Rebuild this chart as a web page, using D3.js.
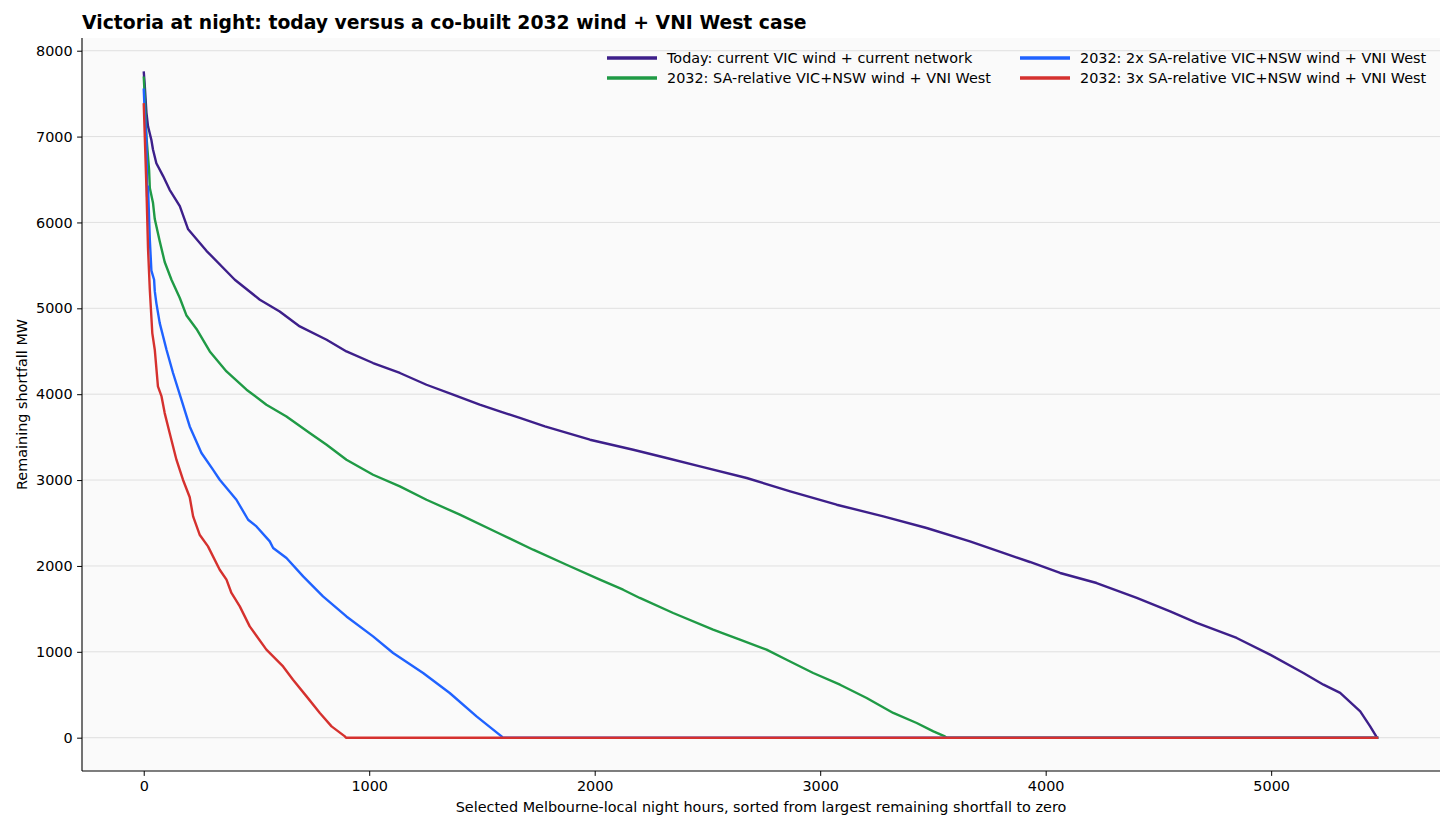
<!DOCTYPE html>
<html>
<head>
<meta charset="utf-8">
<script src="https://cdn.jsdelivr.net/npm/d3@7"></script>
<style>
  body { margin: 0; background: #fff; }
  svg text { font-family: "DejaVu Sans", sans-serif; fill: #000; }
</style>
</head>
<body>
<div id="chart"></div>
<script>
// Series: [sorted hour index, remaining shortfall MW]
var today = [[0,7760],[4,7620],[12,7280],[19,7120],[34,6960],[41,6850],[56,6690],[86,6540],[115,6380],[160,6190],[197,5920],[278,5670],[404,5333],[515,5100],[603,4964],[692,4789],[811,4634],[899,4498],[1017,4363],[1136,4247],[1254,4110],[1372,3994],[1490,3878],[1579,3800],[1668,3723],[1779,3625],[1979,3470],[2171,3353],[2319,3257],[2467,3159],[2674,3024],[2867,2868],[3073,2713],[3280,2577],[3472,2442],[3664,2286],[3812,2151],[3930,2046],[4064,1918],[4226,1801],[4404,1627],[4552,1471],[4670,1336],[4847,1161],[4995,967],[5143,753],[5232,617],[5306,521],[5395,307],[5439,132],[5466,15],[5470,0],[5475,0]]
var sa1x = [[0,7700],[6,7400],[12,7000],[24,6600],[27,6400],[41,6230],[49,6040],[71,5780],[93,5540],[123,5333],[160,5120],[189,4920],[234,4760],[293,4498],[367,4265],[456,4052],[544,3878],[633,3741],[736,3548],[811,3412],[899,3237],[1017,3062],[1136,2926],[1254,2771],[1402,2597],[1579,2375],[1727,2189],[1875,2014],[2023,1840],[2126,1723],[2200,1627],[2348,1452],[2525,1258],[2644,1141],[2762,1025],[2851,908],[2969,753],[3088,617],[3206,462],[3324,288],[3428,171],[3502,73],[3553,15],[3562,0],[5475,0]]
var sa2x = [[0,7560],[4,7300],[12,6963],[15,6300],[19,6420],[27,5800],[34,5440],[46,5333],[49,5200],[56,5061],[71,4828],[101,4518],[130,4247],[167,3936],[204,3625],[256,3315],[307,3121],[337,3004],[411,2771],[463,2538],[500,2460],[559,2286],[574,2209],[633,2092],[707,1878],[795,1645],[899,1412],[1017,1180],[1106,986],[1239,753],[1357,520],[1476,248],[1587,15],[1592,0],[5475,0]]
var sa3x = [[0,7390],[12,6400],[19,5700],[27,5217],[38,4712],[49,4518],[63,4091],[79,3974],[93,3780],[115,3548],[145,3237],[174,3004],[204,2800],[219,2577],[248,2364],[285,2228],[337,1956],[367,1840],[389,1685],[426,1529],[470,1296],[544,1025],[618,830],[662,675],[722,481],[781,287],[833,132],[892,15],[897,0],[5475,0]]

var seriesNames = [
  'Today: current VIC wind + current network',
  '2032: SA-relative VIC+NSW wind + VNI West',
  '2032: 2x SA-relative VIC+NSW wind + VNI West',
  '2032: 3x SA-relative VIC+NSW wind + VNI West'
]
var seriesColors = ['#3d1f8a', '#1f9a45', '#1f62ff', '#d5312e']
var seriesData = [today, sa1x, sa2x, sa3x]

var xTicks = [0, 1000, 2000, 3000, 4000, 5000]
var yTicks = [0, 1000, 2000, 3000, 4000, 5000, 6000, 7000, 8000]

var titleText = 'Victoria at night: today versus a co-built 2032 wind + VNI West case'
var xLabel = 'Selected Melbourne-local night hours, sorted from largest remaining shortfall to zero'
var yLabel = 'Remaining shortfall MW'

// Dimensions
var width = 1456
var height = 832
var margin = { top: 38, right: 16, bottom: 61, left: 82 }
var chartWidth = width - margin.left - margin.right
var chartHeight = height - margin.top - margin.bottom
var fontSize = '14.4px'

var svg = d3.select('#chart').append('svg')
  .attr('width', width)
  .attr('height', height)

// Scales with matplotlib style 5% padding
var all = d3.merge(seriesData)
var xExt = d3.extent(all, function (d) { return d[0] })
var yExt = d3.extent(all, function (d) { return d[1] })
var xPad = (xExt[1] - xExt[0]) * 0.05
var yPad = (yExt[1] - yExt[0]) * 0.05

var x = d3.scaleLinear()
  .domain([xExt[0] - xPad, xExt[1] + xPad])
  .range([0, chartWidth])
var y = d3.scaleLinear()
  .domain([yExt[0] - yPad, yExt[1] + yPad])
  .range([chartHeight, 0])

var g = svg.append('g')
  .attr('transform', 'translate(' + margin.left + ',' + margin.top + ')')

g.append('rect')
  .attr('width', chartWidth)
  .attr('height', chartHeight)
  .attr('fill', '#fafafa')

// Grid
g.selectAll('.grid')
  .data(yTicks)
  .enter().append('line')
  .attr('class', 'grid')
  .attr('x1', 0)
  .attr('x2', chartWidth)
  .attr('y1', function (d) { return y(d) })
  .attr('y2', function (d) { return y(d) })
  .attr('stroke', '#dcdcdc')
  .attr('stroke-width', 0.9)

// Lines
var line = d3.line()
  .x(function (d) { return x(d[0]) })
  .y(function (d) { return y(d[1]) })

g.selectAll('.series')
  .data(seriesData)
  .enter().append('path')
  .attr('class', 'series')
  .attr('d', line)
  .attr('fill', 'none')
  .attr('stroke', function (d, i) { return seriesColors[i] })
  .attr('stroke-width', 2.4)
  .attr('stroke-linejoin', 'round')

// Axes
var xAxis = g.append('g')
  .attr('transform', 'translate(0,' + chartHeight + ')')
  .call(d3.axisBottom(x).tickValues(xTicks).tickSize(4.9).tickPadding(4.5).tickFormat(d3.format('d')))
var yAxis = g.append('g')
  .call(d3.axisLeft(y).tickValues(yTicks).tickSize(4.9).tickPadding(4.5).tickFormat(d3.format('d')))

;[xAxis, yAxis].forEach(function (a) {
  a.select('.domain').remove()
  a.selectAll('.tick line').attr('stroke', '#000').attr('stroke-width', 1)
  a.selectAll('.tick text')
    .style('font-family', '"DejaVu Sans", sans-serif')
    .style('font-size', fontSize)
    .attr('fill', '#000')
})

// Left and bottom spines
g.append('line')
  .attr('x1', 0).attr('x2', 0)
  .attr('y1', 0).attr('y2', chartHeight)
  .attr('stroke', '#000').attr('stroke-width', 1.1)
g.append('line')
  .attr('x1', 0).attr('x2', chartWidth)
  .attr('y1', chartHeight).attr('y2', chartHeight)
  .attr('stroke', '#000').attr('stroke-width', 1.1)

// Labels
svg.append('text')
  .attr('x', margin.left)
  .attr('y', 29)
  .style('font-size', '18.8px')
  .style('font-weight', 'bold')
  .text(titleText)

svg.append('text')
  .attr('x', margin.left + chartWidth / 2)
  .attr('y', 812)
  .attr('text-anchor', 'middle')
  .style('font-size', fontSize)
  .text(xLabel)

svg.append('text')
  .attr('transform', 'translate(27,' + (margin.top + chartHeight / 2) + ') rotate(-90)')
  .attr('text-anchor', 'middle')
  .style('font-size', fontSize)
  .text(yLabel)

// Legend, two columns, no frame
var legendCols = [607, 1020]
var legendRows = [58, 78]
var legend = svg.selectAll('.legend')
  .data(seriesNames)
  .enter().append('g')
  .attr('class', 'legend')
  .attr('transform', function (d, i) {
    var col = i === 0 || i === 1 ? 0 : 1
    var row = i === 0 || i === 2 ? 0 : 1
    return 'translate(' + legendCols[col] + ',' + legendRows[row] + ')'
  })

legend.append('line')
  .attr('x1', 0).attr('x2', 50)
  .attr('y1', 0).attr('y2', 0)
  .attr('stroke', function (d, i) { return seriesColors[i] })
  .attr('stroke-width', 3.6)

legend.append('text')
  .attr('x', 60)
  .attr('y', 5)
  .style('font-size', fontSize)
  .text(function (d) { return d })
</script>
</body>
</html>
